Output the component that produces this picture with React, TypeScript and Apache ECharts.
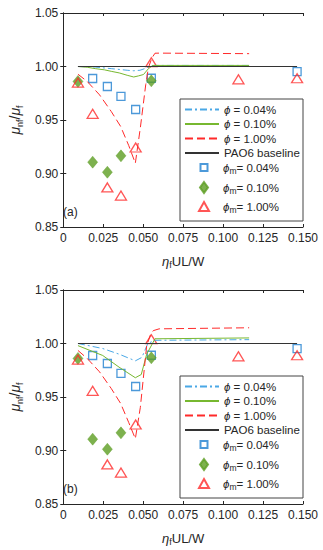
import React, { useEffect, useRef } from "react";
import * as echarts from "echarts";

// ---- measured markers (same in both panels) ----
const sqX = [0.0184, 0.0276, 0.0361, 0.0453, 0.0551, 0.1463];
const sqY = [0.9888, 0.9813, 0.972, 0.9598, 0.989, 0.9953];
const diX = [0.0092, 0.0184, 0.0276, 0.0361, 0.0551];
const diY = [0.986, 0.9106, 0.9012, 0.9165, 0.9866];
const trX = [0.0092, 0.0184, 0.0276, 0.0361, 0.0453, 0.0551, 0.1096, 0.1463];
const trY = [0.985, 0.9558, 0.887, 0.8794, 0.9243, 1.004, 0.988, 0.989];

// ---- baseline ----
const baseX = [0.0092, 0.1463];
const baseY = [1.0, 1.0];

// ---- panel (a) model curves ----
const a004X = [0.0092, 0.02, 0.03, 0.04, 0.0441, 0.048, 0.052, 0.0545, 0.057, 0.1163];
const a004Y = [1.0, 0.9995, 0.998, 0.9965, 0.996, 0.9965, 0.9985, 1.0005, 1.001, 1.001];
const a010X = [0.0092, 0.015, 0.02, 0.0257, 0.03, 0.035, 0.04, 0.0441, 0.047, 0.0502, 0.0533, 0.056, 0.1163];
const a010Y = [1.0, 0.9993, 0.998, 0.9969, 0.9955, 0.994, 0.9918, 0.9902, 0.9912, 0.9925, 0.998, 1.001, 1.001];
const a100X = [0.0092, 0.015, 0.0227, 0.03, 0.0359, 0.041, 0.0451, 0.0482, 0.0516, 0.0533, 0.0555, 0.0574, 0.06, 0.1163];
const a100Y = [0.9928, 0.986, 0.9735, 0.958, 0.944, 0.926, 0.9096, 0.9424, 0.983, 0.999, 1.008, 1.0124, 1.0125, 1.012];

// ---- panel (b) model curves ----
const b004X = [0.0092, 0.0247, 0.035, 0.0451, 0.0492, 0.0529, 0.0574, 0.1163];
const b004Y = [1.0, 0.9953, 0.99, 0.9838, 0.987, 1.0, 1.003, 1.0036];
const b010X = [0.0092, 0.0247, 0.0349, 0.0451, 0.0488, 0.0522, 0.0574, 0.1163];
const b010Y = [0.998, 0.9888, 0.9779, 0.968, 0.971, 0.99, 1.0044, 1.0052];
const b100X = [0.0092, 0.015, 0.0227, 0.03, 0.0359, 0.041, 0.0451, 0.0482, 0.0522, 0.0545, 0.0563, 0.06, 0.1163];
const b100Y = [0.9935, 0.986, 0.9735, 0.958, 0.944, 0.926, 0.911, 0.94, 0.998, 1.008, 1.012, 1.0137, 1.0147];

const panelLabels = ["(a)", "(b)"];
const lineNames = ["ϕ = 0.04%", "ϕ = 0.10%", "ϕ = 1.00%", "PAO6 baseline"];
const markerNames = ["ϕm= 0.04%", "ϕm= 0.10%", "ϕm= 1.00%"];

const X_MIN = 0, X_MAX = 0.15, X_INT = 0.025;
const Y_MIN = 0.85, Y_MAX = 1.05, Y_INT = 0.05;

const FONT = 'Arial, "Liberation Sans", Helvetica, sans-serif';
const AX = "#262626";
const C_BLUE_LINE = "#4aa8e6";
const C_GREEN = "#77b830";
const C_RED = "#ff2a2a";
const C_SQ = "#1f7fd0";
const C_DI = "#5c9e22";
const LF = 11.5;

const zip = (xs: number[], ys: number[]) => xs.map((x, i) => [x, ys[i]]);

const legendFormatter = (name: string) => {
  if (name.startsWith("ϕm")) return "{p|ϕ}{s|m}{t|" + name.slice(2) + "}";
  if (name.startsWith("ϕ")) return "{q|ϕ}{t|" + name.slice(1) + "}";
  return "{t|" + name + "}";
};

export default function App() {
  const ref = useRef<HTMLDivElement>(null);
  useEffect(() => {
    if (!ref.current) return;
    const chart = echarts.init(ref.current, null, { renderer: "svg" });
    const gridTops = [13, 290];
    const panels = [
      { c004: zip(a004X, a004Y), c010: zip(a010X, a010Y), c100: zip(a100X, a100Y) },
      { c004: zip(b004X, b004Y), c010: zip(b010X, b010Y), c100: zip(b100X, b100Y) },
    ];
    const grid: any[] = [];
    const xAxis: any[] = [];
    const yAxis: any[] = [];
    const series: any[] = [];
    const legend: any[] = [];
    const graphic: any[] = [];
    const offs = [0, 277];
    const baseline = zip(baseX, baseY);

    const lineRowCenters = [110.5, 125, 139.5, 154];
    const markerRowCenters = [170.5, 190, 209.5];
    const markerIcons = [
      { icon: "path://M0,0H7V7H0Z", w: 7, left: 199.5, pad: 10.5 },
      { icon: "path://M4,0L8,5.5L4,11L0,5.5Z", w: 8, left: 199, pad: 10 },
      { icon: "path://M5,0L10,9L0,9Z", w: 10, left: 198, pad: 9 },
    ];

    panels.forEach((p, g) => {
      grid.push({ left: 58, top: gridTops[g], width: 245, height: 214 });
      const bx = {
        type: "value", gridIndex: g, min: X_MIN, max: X_MAX, interval: X_INT,
        splitLine: { show: false },
        axisLine: { show: true, lineStyle: { color: AX, width: 1 } },
        axisTick: { show: true, inside: true, length: 3, lineStyle: { color: AX } },
      };
      xAxis.push({
        ...bx, position: "bottom",
        axisLabel: { color: AX, fontSize: 12, fontFamily: FONT, margin: 5,
          formatter: (v: number) => (Math.abs(v) < 1e-9 ? "0" : v.toFixed(3)) },
        name: "{e|η}{s|f}{t|UL/W}", nameLocation: "middle", nameGap: 26,
        nameTextStyle: { rich: {
          e: { fontSize: 13, fontStyle: "italic", fontFamily: FONT, color: AX, lineHeight: 16 },
          s: { fontSize: 9, fontFamily: FONT, color: AX, lineHeight: 8, verticalAlign: "bottom" },
          t: { fontSize: 13, fontFamily: FONT, color: AX, lineHeight: 16 },
        } },
      });
      xAxis.push({ ...bx, position: "top", axisLabel: { show: false } });
      const by = {
        type: "value", gridIndex: g, min: Y_MIN, max: Y_MAX, interval: Y_INT,
        splitLine: { show: false },
        axisLine: { show: true, lineStyle: { color: AX, width: 1 } },
        axisTick: { show: true, inside: true, length: 3, lineStyle: { color: AX } },
      };
      yAxis.push({
        ...by, position: "left",
        axisLabel: { color: AX, fontSize: 12, fontFamily: FONT, margin: 5,
          formatter: (v: number) => v.toFixed(2) },
        name: "{m|μ}{s|nf}{n|/}{m|μ}{s|f}", nameLocation: "middle", nameRotate: 90, nameGap: 37,
        nameTextStyle: { rich: {
          m: { fontSize: 14, fontStyle: "italic", fontFamily: FONT, color: AX, lineHeight: 18 },
          n: { fontSize: 14, fontFamily: FONT, color: AX, lineHeight: 18 },
          s: { fontSize: 9, fontFamily: FONT, color: AX, lineHeight: 8, verticalAlign: "bottom" },
        } },
      });
      yAxis.push({ ...by, position: "right", axisLabel: { show: false } });

      const xi = 2 * g, yi = 2 * g;
      series.push(
        { type: "line", name: lineNames[0], xAxisIndex: xi, yAxisIndex: yi, data: p.c004,
          symbol: "none", color: C_BLUE_LINE, lineStyle: { color: C_BLUE_LINE, width: 1, type: [7, 3, 2, 3] } },
        { type: "line", name: lineNames[1], xAxisIndex: xi, yAxisIndex: yi, data: p.c010,
          symbol: "none", color: C_GREEN, lineStyle: { color: C_GREEN, width: 1 } },
        { type: "line", name: lineNames[2], xAxisIndex: xi, yAxisIndex: yi, data: p.c100,
          symbol: "none", color: C_RED, lineStyle: { color: C_RED, width: 1, type: [8, 4] } },
        { type: "line", name: lineNames[3], xAxisIndex: xi, yAxisIndex: yi, data: baseline,
          symbol: "none", color: "#333333", lineStyle: { color: "#333333", width: 1 } },
        { type: "scatter", name: markerNames[0], xAxisIndex: xi, yAxisIndex: yi, data: zip(sqX, sqY),
          symbol: "rect", symbolSize: 8,
          itemStyle: { color: "rgba(255,255,255,0)", borderColor: C_SQ, borderWidth: 1.3 } },
        { type: "scatter", name: markerNames[1], xAxisIndex: xi, yAxisIndex: yi, data: zip(diX, diY),
          symbol: "diamond", symbolSize: [10, 12],
          itemStyle: { color: C_DI, borderColor: C_DI, borderWidth: 0.5 } },
        { type: "scatter", name: markerNames[2], xAxisIndex: xi, yAxisIndex: yi, data: zip(trX, trY),
          symbol: "triangle", symbolSize: [11, 9],
          itemStyle: { color: "rgba(255,255,255,0)", borderColor: C_RED, borderWidth: 1.3 } },
      );

      const o = offs[g];
      graphic.push({
        type: "rect", z: 3, shape: { x: 180, y: 99 + o, width: 123, height: 122 },
        style: { fill: "#ffffff", stroke: "#444444", lineWidth: 1 },
      });
      graphic.push({
        type: "text", z: 5, left: 63, top: 206 + o,
        style: { text: panelLabels[g], fontSize: 12, fontFamily: FONT, fill: AX },
      });
      lineNames.forEach((nm, i) => {
        legend.push({
          data: [nm], orient: "vertical", left: 184, top: lineRowCenters[i] - 7 + o, padding: 0,
          itemWidth: 34, itemHeight: 14, selectedMode: false, z: 6,
          itemStyle: { opacity: 0 },
          formatter: legendFormatter,
          textStyle: { rich: {
            q: { fontSize: LF, fontStyle: "italic", fontFamily: FONT, color: AX, lineHeight: 14 },
            t: { fontSize: LF, fontFamily: FONT, color: AX, lineHeight: 14 },
          } },
        });
      });
      markerNames.forEach((nm, i) => {
        const mi = markerIcons[i];
        legend.push({
          data: [{ name: nm, icon: mi.icon }], orient: "vertical", left: mi.left,
          top: markerRowCenters[i] - 9 + o, padding: 0,
          itemWidth: mi.w, itemHeight: 18, selectedMode: false, z: 6, symbolKeepAspect: true,
          formatter: legendFormatter,
          textStyle: { rich: {
            p: { fontSize: LF, fontStyle: "italic", fontFamily: FONT, color: AX, lineHeight: 16, padding: [0, 0, 0, mi.pad] },
            t: { fontSize: LF, fontFamily: FONT, color: AX, lineHeight: 16 },
            s: { fontSize: 8.5, fontFamily: FONT, color: AX, lineHeight: 8, verticalAlign: "bottom" },
          } },
        });
      });
    });

    chart.setOption({
      animation: false,
      backgroundColor: "#ffffff",
      grid, xAxis, yAxis, series, legend, graphic,
    });
    return () => chart.dispose();
  }, []);
  return (
    <div ref={ref} style={{ position: "absolute", left: 0, top: 0, width: 323, height: 550 }} />
  );
}
